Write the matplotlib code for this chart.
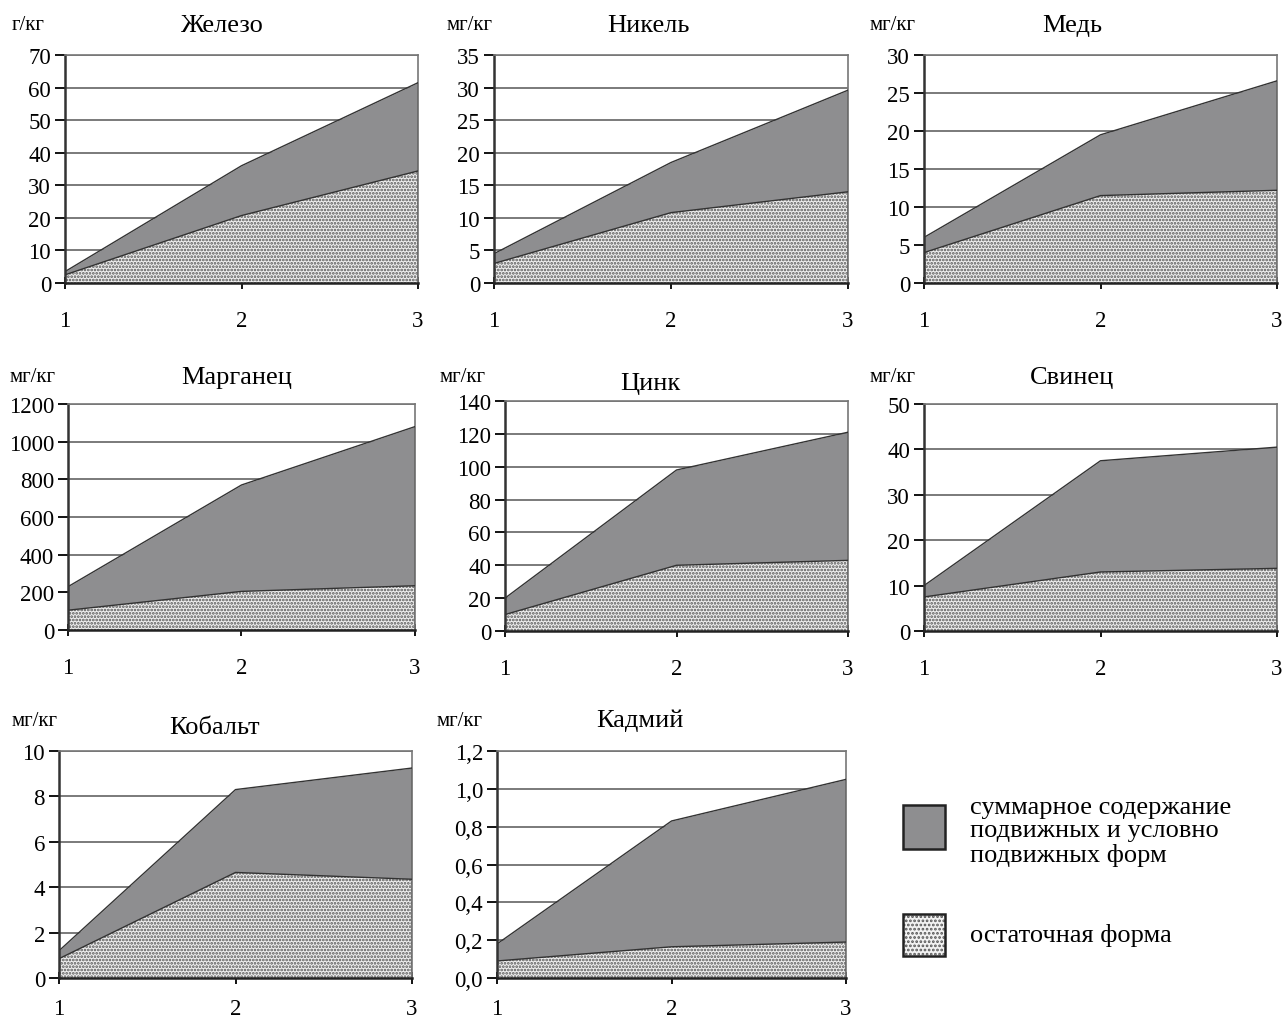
import matplotlib
matplotlib.use("Agg")
import matplotlib.pyplot as plt
from matplotlib.patches import Rectangle

plt.rcParams['font.family'] = ['Liberation Serif', 'DejaVu Serif']
plt.rcParams['hatch.linewidth'] = 1.3

x = [1, 2, 3]

titles = ["Железо", "Никель", "Медь", "Марганец", "Цинк", "Свинец", "Кобальт", "Кадмий"]
units = ["г/кг", "мг/кг", "мг/кг", "мг/кг", "мг/кг", "мг/кг", "мг/кг", "мг/кг"]

fe_total = [3.5, 36, 61.5]
fe_resid = [2.5, 20.7, 34.4]
ni_total = [4.5, 18.5, 29.6]
ni_resid = [3.0, 10.8, 14.0]
cu_total = [6.0, 19.5, 26.6]
cu_resid = [4.0, 11.5, 12.2]
mn_total = [230, 770, 1080]
mn_resid = [105, 205, 235]
zn_total = [20, 98, 121]
zn_resid = [10, 40, 43]
pb_total = [10.0, 37.5, 40.5]
pb_resid = [7.5, 13.0, 13.8]
co_total = [1.2, 8.3, 9.25]
co_resid = [0.85, 4.65, 4.35]
cd_total = [0.18, 0.83, 1.05]
cd_resid = [0.09, 0.165, 0.19]

totals = [fe_total, ni_total, cu_total, mn_total, zn_total, pb_total, co_total, cd_total]
resids = [fe_resid, ni_resid, cu_resid, mn_resid, zn_resid, pb_resid, co_resid, cd_resid]

yticks = [
    [0, 10, 20, 30, 40, 50, 60, 70],
    [0, 5, 10, 15, 20, 25, 30, 35],
    [0, 5, 10, 15, 20, 25, 30],
    [0, 200, 400, 600, 800, 1000, 1200],
    [0, 20, 40, 60, 80, 100, 120, 140],
    [0, 10, 20, 30, 40, 50],
    [0, 2, 4, 6, 8, 10],
    [0.0, 0.2, 0.4, 0.6, 0.8, 1.0, 1.2],
]
cd_labels = ["0,0", "0,2", "0,4", "0,6", "0,8", "1,0", "1,2"]

legend_labels = ["суммарное содержание\nподвижных и условно\nподвижных форм", "остаточная форма"]

W, H = 1285, 1020
fig = plt.figure(figsize=(W / 100, H / 100), dpi=100)

# layout in pixels: axes box (left, right, top, bottom), title center, unit label position
boxes = [
    (65, 418, 56, 284),
    (494, 848, 56, 284),
    (924, 1277, 56, 284),
    (68, 415, 405, 631),
    (505, 848, 402, 632),
    (924, 1277, 405, 632),
    (59, 412, 752, 979),
    (497, 846, 752, 979),
]
title_pos = [(222, 26), (648, 26), (1072, 26), (237, 378), (650, 384), (1072, 378), (215, 728), (640, 721)]
unit_pos = [(12, 26), (447, 26), (870, 26), (10, 378), (440, 378), (870, 378), (12, 721), (437, 721)]
xpads = [15, 15, 15, 15, 15, 15, 10, 10]

dark = '#8e8e90'
for i, (l, r, t, b) in enumerate(boxes):
    ax = fig.add_axes([l / W, 1 - b / H, (r - l) / W, (b - t) / H])
    tot, res = totals[i], resids[i]
    yt = yticks[i]
    ax.set_xlim(1, 3)
    ax.set_ylim(yt[0], yt[-1])
    for v in yt[1:]:
        ax.axhline(v, color='#707070', lw=1.3, zorder=0)
    ax.fill_between(x, res, tot, color=dark, lw=0, zorder=2)
    ax.fill_between(x, 0, res, facecolor='#eeeeee', edgecolor='#555555',
                    hatch='.....', lw=0, zorder=2)
    ax.plot(x, tot, color='#333333', lw=1.0, zorder=3)
    ax.plot(x, res, color='#333333', lw=1.0, zorder=3)
    ax.plot([3, 3], [0, tot[2]], color='#333333', lw=1.0, zorder=3)
    ax.set_yticks(yt)
    if i == 7:
        ax.set_yticklabels(cd_labels)
    ax.set_xticks(x)
    for s in ['top', 'right']:
        ax.spines[s].set_color('#777777')
        ax.spines[s].set_linewidth(1.2)
    ax.spines['left'].set_linewidth(1.8)
    ax.spines['left'].set_color('#333333')
    ax.spines['bottom'].set_linewidth(1.8)
    ax.spines['bottom'].set_color('#222222')
    ax.tick_params(axis='y', direction='out', length=7, width=1.3, labelsize=16.5, pad=3)
    ax.tick_params(axis='x', direction='inout', length=9, width=1.3, labelsize=16.5, pad=xpads[i])
    tx, ty = title_pos[i]
    fig.text(tx / W, 1 - ty / H, titles[i], fontsize=19, ha='center', va='center')
    ux, uy = unit_pos[i]
    fig.text(ux / W, 1 - uy / H, units[i], fontsize=15, ha='left', va='center')

# legend
lx, lw_ = 903, 42
fig.patches.append(Rectangle((lx / W, 1 - 850 / H), lw_ / W, 44 / H, transform=fig.transFigure,
                             facecolor=dark, edgecolor='#222222', lw=1.8))
fig.patches.append(Rectangle((lx / W, 1 - 957 / H), lw_ / W, 42 / H, transform=fig.transFigure,
                             facecolor='#f2f2f2', edgecolor='#555555', hatch='....', lw=0))
fig.patches.append(Rectangle((lx / W, 1 - 957 / H), lw_ / W, 42 / H, transform=fig.transFigure,
                             facecolor='none', edgecolor='#222222', lw=1.8))
fig.text(970 / W, 1 - 832 / H, legend_labels[0], fontsize=19, ha='left', va='center', linespacing=1.1)
fig.text(970 / W, 1 - 936 / H, legend_labels[1], fontsize=19, ha='left', va='center')

fig.savefig("out.png", dpi=100)
